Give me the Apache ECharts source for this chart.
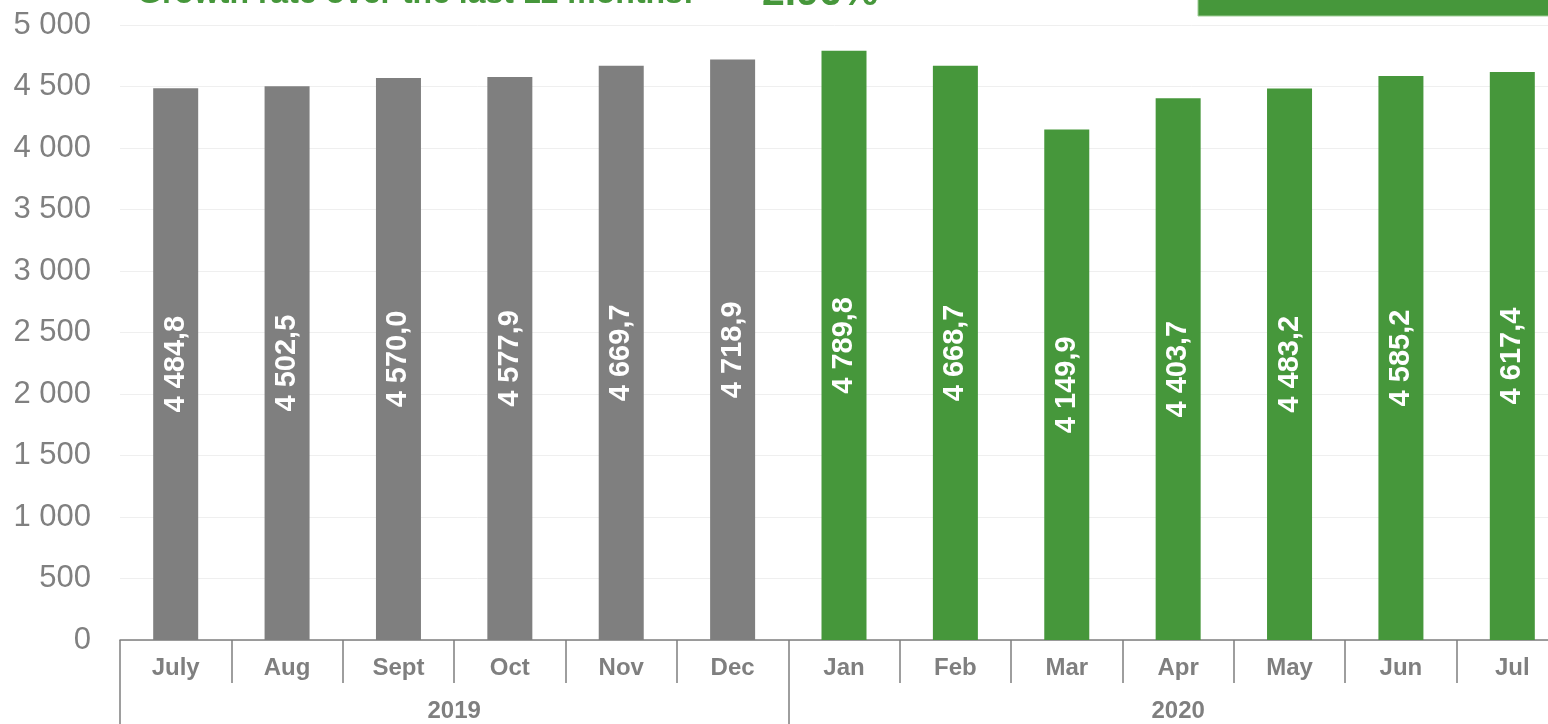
<!DOCTYPE html>
<html>
<head>
<meta charset="utf-8">
<script src="https://cdn.jsdelivr.net/npm/echarts@6/dist/echarts.min.js"></script>
<style>
html, body { margin: 0; padding: 0; background: #fff; }
#main { width: 1548px; height: 724px; }
</style>
</head>
<body>
<div id="main"></div>
<script>
var months = ['July', 'Aug', 'Sept', 'Oct', 'Nov', 'Dec', 'Jan', 'Feb', 'Mar', 'Apr', 'May', 'Jun', 'Jul'];
var values = [4484.8, 4502.5, 4570.0, 4577.9, 4669.7, 4718.9, 4789.8, 4668.7, 4149.9, 4403.7, 4483.2, 4585.2, 4617.4];
var years = ['2019', '2020'];
var yearMonths = [6, 7];   // months in each year group
var growthText = '2.96%';

var GRAY = '#7f7f7f';
var GREEN = '#46973b';
var FONT = 'Liberation Sans, Arial, sans-serif';

function fmtThousands(v) {
    return String(v).replace(/\B(?=(\d{3})+(?!\d))/g, ' ');
}
function fmtValue(v) {
    var parts = v.toFixed(1).split('.');
    return fmtThousands(parts[0]) + ',' + parts[1];
}

// year group boundaries and centres on a 0..n value scale
var yearTicks = [0];
var yearCenters = [];
var acc = 0;
yearMonths.forEach(function (n) {
    yearCenters.push(acc + n / 2);
    acc += n;
    yearTicks.push(acc);
});

var myChart = echarts.init(document.getElementById('main'));

var option = {
    animation: false,
    // plot area runs a little past the right edge of the picture
    grid: { left: 120, width: 1448, top: 25, bottom: 84, outerBoundsMode: 'none', containLabel: false },
    graphic: [
        {
            type: 'text', left: 137, top: -22,
            style: { text: 'Growth rate over the last 12 months:', fill: GREEN, font: 'bold 32px ' + FONT }
        },
        {
            type: 'text', left: 762, top: -27,
            style: { text: growthText, fill: GREEN, font: 'bold 41px ' + FONT }
        },
        {
            type: 'rect', shape: { x: 1198, y: -4, width: 360, height: 20 },
            style: { fill: GREEN, stroke: '#9fcd96', lineWidth: 1 }
        }
    ],
    xAxis: [
        {
            type: 'category',
            data: months,
            position: 'bottom',
            axisLine: { lineStyle: { color: GRAY, width: 1.5 } },
            axisTick: { show: true, interval: 0, length: 43, lineStyle: { color: GRAY, width: 1.5 } },
            axisLabel: { interval: 0, color: GRAY, fontWeight: 'bold', fontSize: 24, fontFamily: FONT, margin: 16 }
        },
        {
            type: 'value',
            min: 0,
            max: yearTicks[yearTicks.length - 1],
            position: 'bottom',
            offset: 43,
            axisLine: { show: false },
            splitLine: { show: false },
            axisTick: { show: true, customValues: yearTicks, length: 41, lineStyle: { color: GRAY, width: 1.5 } },
            axisLabel: {
                customValues: yearCenters,
                color: GRAY, fontWeight: 'bold', fontSize: 24, fontFamily: FONT, margin: 16,
                formatter: function (v) {
                    var i = yearCenters.indexOf(v);
                    return i >= 0 ? years[i] : '';
                }
            }
        }
    ],
    yAxis: {
        type: 'value',
        min: 0,
        max: 5000,
        interval: 500,
        axisLine: { show: false },
        axisTick: { show: false },
        splitLine: { lineStyle: { color: '#efefef', width: 1 } },
        axisLabel: { color: '#808080', fontSize: 31, fontFamily: FONT, margin: 29, formatter: fmtThousands }
    },
    series: [{
        type: 'bar',
        xAxisIndex: 0,
        barWidth: 45,
        data: values.map(function (v, i) {
            return { value: v, itemStyle: { color: i < yearMonths[0] ? GRAY : GREEN } };
        }),
        label: {
            show: true,
            position: 'inside',
            rotate: 90,
            color: '#fff',
            fontWeight: 'bold',
            fontSize: 29,
            fontFamily: FONT,
            formatter: function (p) { return fmtValue(p.value); }
        }
    }]
};

myChart.setOption(option);
</script>
</body>
</html>
